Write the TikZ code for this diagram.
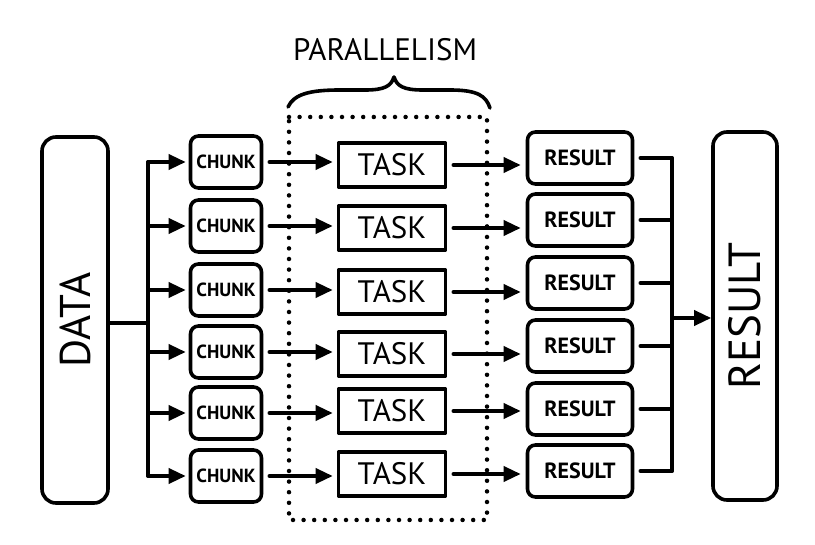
\documentclass[tikz,border=0pt]{standalone}
\usepackage{fontspec}
\setmainfont{PT Sans}
\usetikzlibrary{arrows.meta}
\begin{document}
\begin{tikzpicture}[x=1pt,y=-1pt,
  line width=3.6pt, line join=round, line cap=round,
  box/.style={draw, rounded corners=8pt, minimum width=71pt, minimum height=52pt, inner sep=0pt},
  chunkbox/.style={box, font=\bfseries\fontsize{19}{19}\selectfont},
  taskbox/.style={draw, minimum width=107pt, minimum height=44pt, inner sep=0pt, font=\fontsize{31}{31}\selectfont},
  resbox/.style={box, minimum width=105pt, font=\bfseries\fontsize{22}{22}\selectfont},
  bigbox/.style={draw, rounded corners=14pt, minimum height=66pt, inner sep=0pt, rotate=90, font=\fontsize{43}{43}\selectfont},
  arr/.style={-{Triangle[length=17pt,width=15pt]}},
  dots/.style={line width=4.5pt, dash pattern=on 0pt off 10.6pt, line cap=round}]
\useasboundingbox (0,0) rectangle (815,545);

% input and output columns
\node[bigbox, minimum width=366pt] (data) at (75,320) {DATA};
\node[bigbox, minimum width=368pt, minimum height=64pt, font=\fontsize{45}{45}\selectfont] (final) at (745,316) {RESULT};

% the six parallel lanes
\foreach \i/\yc/\yt/\yr in {1/162/165/158, 2/226/228/220, 3/290/292/283, 4/352/354/346, 5/413/411/409, 6/476/474/471} {
  \node[chunkbox] (c\i) at (226,\yc) {CHUNK};
  \node[taskbox] (t\i) at (392,\yt) {TASK};
  \node[resbox] (r\i) at (580,\yr) {RESULT};
  \draw[arr] ([xshift=6pt]c\i.east) -- ([xshift=-4pt]t\i.west |- c\i.east);
  \draw[arr] ([xshift=6pt]t\i.east) -- ([xshift=-5pt]r\i.west |- t\i.east);
}

% fan-out from the data column
\coordinate (split) at (148,323);
\draw (data.south |- split) -- (split);
\draw (148,162) -- (148,476);
\foreach \i in {1,...,6} \draw[arr] (148,0 |- c\i.west) -- ([xshift=-3pt]c\i.west);

% fan-in to the final result
\foreach \i in {1,...,6} \draw ([xshift=6pt]r\i.east) -- (672,0 |- r\i.east);
\draw (672,158) -- (672,471);
\coordinate (join) at (672,318);
\draw[arr] (join) -- (final.north |- join);

% dotted frame around the tasks
\draw[dots] (289,117) -- (487,117) -- (487,520) -- (289,520) -- cycle;

% brace and label
\draw (288,107) .. controls (294,94) and (310,90) .. (340,90) -- (365,90)
      .. controls (385,90) and (391,86) .. (394,77)
      .. controls (397,86) and (403,90) .. (423,90) -- (450,90)
      .. controls (478,90) and (486,96) .. (490,108);
\node[font=\fontsize{31}{31}\selectfont] (par) at (385,50) {PARALLELISM};
\end{tikzpicture}
\end{document}
